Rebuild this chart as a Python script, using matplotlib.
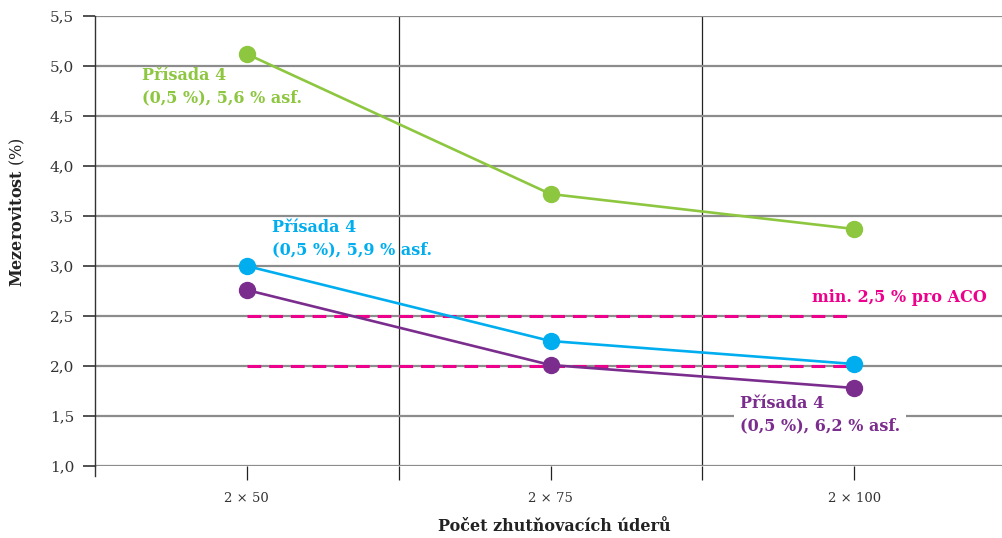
import matplotlib.pyplot as plt
import numpy as np

plt.rcParams['font.family'] = ['DejaVu Serif']
plt.rcParams['mathtext.fontset'] = 'custom'
plt.rcParams['mathtext.rm'] = 'DejaVu Serif'
plt.rcParams['mathtext.bf'] = 'DejaVu Serif:bold'

# Data
categories = ['2 × 50', '2 × 75', '2 × 100']
green_vals = [5.12, 3.72, 3.37]
blue_vals = [3.00, 2.25, 2.02]
purple_vals = [2.76, 2.01, 1.78]
limits = [2.5, 2.0]

green = '#8dc63f'
blue = '#00aeef'
purple = '#7b2d8e'
pink = '#ec008c'

x = np.arange(len(categories))

fig = plt.figure(figsize=(10.03, 5.38), dpi=100)
ax = fig.add_axes([95 / 1003, 72 / 538, 1 - 95 / 1003 + 0.003, 450 / 538])

# Limit lines (dashed)
for lim in limits:
    ax.plot([x[0], x[-1]], [lim, lim], color=pink, lw=2.2, linestyle=(0, (4.5, 2.6)), zorder=3)

# Series
for vals, col in [(green_vals, green), (blue_vals, blue), (purple_vals, purple)]:
    ax.plot(x, vals, color=col, lw=1.9, marker='o', markersize=11.5, zorder=4)

ax.set_xlim(-0.5, 2.5)
ax.set_ylim(1.0, 5.5)

# Axis styling
yticks = np.arange(1.0, 5.51, 0.5)
ax.set_yticks(yticks)
ax.set_yticklabels([f'{v:.1f}'.replace('.', ',') for v in yticks], fontsize=11, color='#333333')
ax.set_xticks(x)
ax.set_xticklabels(categories, fontsize=9.5, color='#333333')
ax.set_xticks([0.5, 1.5], minor=True)
ax.tick_params(axis='y', length=9, width=1.2, color='#333333', pad=6)
ax.tick_params(axis='x', which='both', length=10, width=0.9, color='#222222', pad=9)

ax.grid(axis='y', color='#8c8c8c', lw=1.6, zorder=0)
ax.grid(axis='x', which='minor', color='#222222', lw=0.9, zorder=0)
ax.set_axisbelow(True)

for s in ['top', 'right', 'bottom']:
    ax.spines[s].set_visible(False)
ax.spines['left'].set_color('#333333')
ax.spines['left'].set_linewidth(1.0)
ax.plot([0, 0], [-10 / 450, 0], transform=ax.transAxes, color='#333333', lw=1.0, clip_on=False)

ax.set_xlabel('Počet zhutňovacích úderů', fontsize=11.5, fontweight='bold', color='#222222')
ax.xaxis.set_label_coords(458 / 908, -52 / 450)
ax.set_ylabel(r'$\mathbf{Mezerovitost}$ (%)', fontsize=11.5, color='#222222')
ax.yaxis.set_label_coords(-68 / 908, 0.565)

# Annotations
ax.text(-0.346, 4.99, 'Přísada 4\n(0,5 %), 5,6 % asf.', color=green, fontsize=11.5,
        fontweight='bold', va='top', ha='left', linespacing=1.4)
ax.text(0.082, 3.47, 'Přísada 4\n(0,5 %), 5,9 % asf.', color=blue, fontsize=11.5,
        fontweight='bold', va='top', ha='left', linespacing=1.4)
ax.text(1.624, 1.71, 'Přísada 4\n(0,5 %), 6,2 % asf.', color=purple, fontsize=11.5,
        fontweight='bold', va='top', ha='left', linespacing=1.4,
        bbox=dict(facecolor='white', edgecolor='none', pad=4))
ax.text(2.438, 2.68, 'min. 2,5 % pro ACO', color=pink, fontsize=11.5,
        fontweight='bold', va='center', ha='right')

plt.savefig('out.png', dpi=100)
